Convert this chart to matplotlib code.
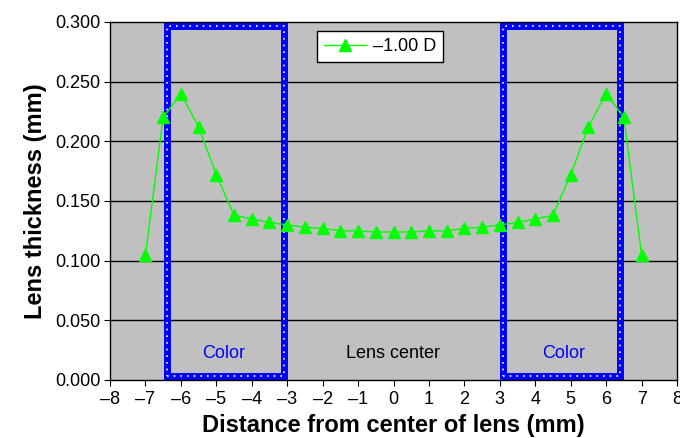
import numpy as np
import matplotlib.pyplot as plt

plt.rcParams['font.family'] = ['Liberation Sans', 'DejaVu Sans']

# distance from lens center (mm) and thickness (mm)
distance = [-7, -6.5, -6, -5.5, -5, -4.5, -4, -3.5, -3, -2.5, -2, -1.5, -1, -0.5,
            0, 0.5, 1, 1.5, 2, 2.5, 3, 3.5, 4, 4.5, 5, 5.5, 6, 6.5, 7]
thickness = [0.105, 0.220, 0.240, 0.212, 0.172, 0.138, 0.135, 0.132, 0.130, 0.128,
             0.127, 0.125, 0.125, 0.124, 0.124, 0.124, 0.125, 0.125, 0.127, 0.128,
             0.130, 0.132, 0.135, 0.138, 0.172, 0.212, 0.240, 0.220, 0.105]
series_label = "\u20131.00 D"

# colored zones (mm)
zones = [(-6.4, -3.1), (3.1, 6.4)]
zone_labels = [(-4.8, "Color", "blue"), (0, "Lens center", "black"), (4.8, "Color", "blue")]

fig = plt.figure(figsize=(6.8, 4.38), dpi=100)
ax = fig.add_axes([110 / 680, 58 / 438, 567 / 680, 358 / 438])
ax.set_facecolor('#c0c0c0')

for yv in np.arange(0.05, 0.30, 0.05):
    ax.axhline(yv, color='black', lw=1, zorder=1)

# blue boxes with white dotted inner line
for x0, x1 in zones:
    xs = [x0, x1, x1, x0, x0]
    ys = [0.003, 0.003, 0.297, 0.297, 0.003]
    ax.plot(xs, ys, color='#0000ff', lw=5, zorder=2, solid_joinstyle='miter')
    ax.plot(xs, ys, color='white', lw=1.2, ls=(0, (1, 3)), zorder=3)

ax.plot(distance, thickness, color='#00ff00', lw=1, marker='^', ms=8,
        label=series_label, zorder=4)

for xv, txt, col in zone_labels:
    ax.text(xv, 0.0225, txt, color=col, fontsize=13, ha='center', va='center')

ax.set_xlim(-8, 8)
ax.set_ylim(0, 0.3)
ax.set_xticks(range(-8, 9))
ax.set_xticklabels([str(v).replace('-', '\u2013') for v in range(-8, 9)])
ax.set_yticks(np.arange(0, 0.301, 0.05))
ax.set_yticklabels(["%.3f" % v for v in np.arange(0, 0.301, 0.05)])
ax.tick_params(labelsize=13, direction='out', length=4, color='black', pad=3)
ax.tick_params(axis='x', pad=4)
for s in ax.spines.values():
    s.set_color('black')
    s.set_linewidth(1)

ax.set_xlabel("Distance from center of lens (mm)", fontsize=17, fontweight='bold', labelpad=4)
ax.set_ylabel("Lens thickness (mm)", fontsize=17, fontweight='bold', labelpad=6)

leg = ax.legend(loc='upper left', bbox_to_anchor=(0.365, 0.975), borderaxespad=0,
                fontsize=13, fancybox=False, framealpha=1, edgecolor='black',
                handlelength=2.3, handletextpad=0.4, borderpad=0.4)
leg.get_frame().set_linewidth(1)

fig.savefig('out.png', dpi=100)
